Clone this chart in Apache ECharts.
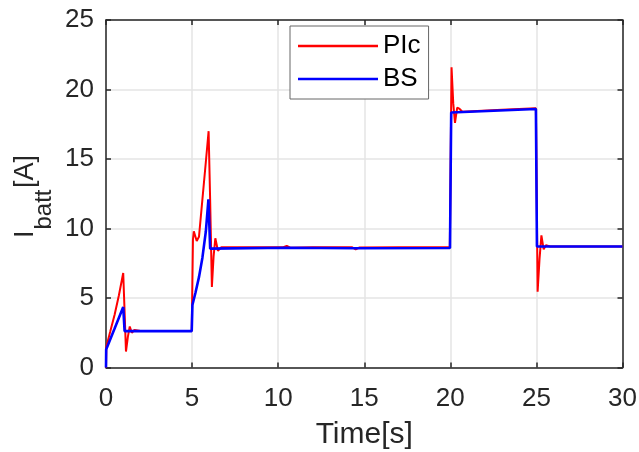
<!DOCTYPE html>
<html><head><meta charset="utf-8">
<script src="https://cdn.jsdelivr.net/npm/echarts@6/dist/echarts.min.js"></script>
<style>html,body{margin:0;padding:0;background:#fff}#c{width:639px;height:452px}</style>
</head><body><div id="c"></div>
<script>
// x-axis ticks and y-axis ticks
const xTicks = [0, 5, 10, 15, 20, 25, 30];
const yTicks = [0, 5, 10, 15, 20, 25];

// PIc series (red)
const icTime = [0, 0.02, 0.25, 0.5, 0.75, 1.0, 1.08, 1.16, 1.27, 1.38, 1.5, 1.65, 2.0, 4.98, 5.05, 5.1, 5.27, 5.4, 5.6, 5.8, 5.96, 6.05, 6.15, 6.25, 6.35, 6.5, 6.7, 8.0, 10.3, 10.5, 10.7, 12.0, 14.3, 14.5, 14.7, 17.0, 19.97, 20.07, 20.17, 20.27, 20.4, 20.54, 20.7, 23.0, 24.97, 25.07, 25.18, 25.29, 25.42, 25.55, 25.8, 30];
const icValue = [0, 1.5, 2.6, 3.8, 5.2, 6.8, 4.0, 1.15, 2.2, 2.95, 2.5, 2.7, 2.62, 2.62, 9.2, 9.8, 9.1, 9.4, 12.1, 14.8, 17.0, 12.0, 5.8, 8.0, 9.3, 8.4, 8.65, 8.65, 8.65, 8.75, 8.62, 8.65, 8.65, 8.5, 8.63, 8.65, 8.65, 21.6, 19.0, 17.6, 18.7, 18.6, 18.4, 18.55, 18.65, 5.45, 7.8, 9.5, 8.5, 8.8, 8.7, 8.7];

// BS series (blue)
const bsTime = [0, 0.01, 0.5, 1.0, 1.08, 4.98, 5.02, 5.2, 5.4, 5.6, 5.8, 5.95, 6.05, 10.5, 14.5, 19.98, 20.05, 24.97, 25.03, 30];
const bsValue = [0, 1.3, 2.8, 4.35, 2.62, 2.62, 4.5, 5.4, 6.5, 7.9, 9.8, 12.1, 8.55, 8.62, 8.58, 8.6, 18.35, 18.6, 8.7, 8.7];

const seriesNames = ['PIc', 'BS'];
const yTitleParts = ['I', 'batt', '[A]'];
const xTitle = 'Time[s]';

const FF = 'Arial, "Liberation Sans", Helvetica, sans-serif';
const axisColor = '#262626';
const gridColor = '#e4e4e4';

function pairs(t, v) { return t.map((x, i) => [x, v[i]]); }

const chart = echarts.init(document.getElementById('c'), null, {renderer: 'canvas'});

const lineStyle = {color: axisColor, width: 1.5};
const tickStyle = {show: true, inside: true, length: 5, lineStyle: {color: axisColor, width: 1.5}};

// rotated y-axis title pieces (main text + subscript)
function rotText(text, x, y, size) {
  return {
    type: 'text', x: x, y: y, rotation: Math.PI / 2, silent: true,
    style: {text: text, fontSize: size, fontFamily: FF, fill: axisColor, align: 'left', verticalAlign: 'middle'}
  };
}

chart.setOption({
  animation: false,
  backgroundColor: '#fff',
  grid: {left: 106, right: 16.5, top: 20, bottom: 84.5, containLabel: false, outerBoundsMode: 'none'},
  legend: {
    orient: 'vertical', left: 290, top: 26, padding: [7, 8, 7, 8], itemGap: 7,
    itemWidth: 80, itemHeight: 2.5, icon: 'rect',
    backgroundColor: '#fff', borderColor: '#666', borderWidth: 1,
    textStyle: {fontSize: 26, color: '#000', fontFamily: FF},
    data: seriesNames
  },
  graphic: [
    rotText(yTitleParts[0], 26, 238, 27),
    rotText(yTitleParts[1], 44, 229.5, 24),
    rotText(yTitleParts[2], 26, 188, 27)
  ],
  xAxis: [
    {
      type: 'value', min: xTicks[0], max: xTicks[xTicks.length - 1], interval: xTicks[1] - xTicks[0], position: 'bottom',
      axisLine: {show: true, onZero: false, lineStyle: lineStyle},
      axisTick: tickStyle,
      axisLabel: {margin: 18, fontSize: 26, color: axisColor, fontFamily: FF},
      splitLine: {show: true, lineStyle: {color: gridColor, width: 1.5}},
      name: xTitle, nameLocation: 'middle', nameGap: 52,
      nameTextStyle: {fontSize: 30, color: axisColor, fontFamily: FF}
    },
    {
      type: 'value', min: xTicks[0], max: xTicks[xTicks.length - 1], interval: xTicks[1] - xTicks[0], position: 'top',
      axisLine: {show: true, onZero: false, lineStyle: lineStyle},
      axisTick: tickStyle, axisLabel: {show: false}, splitLine: {show: false}
    }
  ],
  yAxis: [
    {
      type: 'value', min: yTicks[0], max: yTicks[yTicks.length - 1], interval: yTicks[1] - yTicks[0], position: 'left',
      axisLine: {show: true, onZero: false, lineStyle: lineStyle},
      axisTick: tickStyle,
      axisLabel: {margin: 12, fontSize: 26, color: axisColor, fontFamily: FF},
      splitLine: {show: true, lineStyle: {color: gridColor, width: 1.5}}
    },
    {
      type: 'value', min: yTicks[0], max: yTicks[yTicks.length - 1], interval: yTicks[1] - yTicks[0], position: 'right',
      axisLine: {show: true, onZero: false, lineStyle: lineStyle},
      axisTick: tickStyle, axisLabel: {show: false}, splitLine: {show: false}
    }
  ],
  series: [
    {
      name: seriesNames[0], type: 'line', xAxisIndex: 0, yAxisIndex: 0,
      showSymbol: false, symbol: 'none', color: '#ff0000',
      lineStyle: {color: '#ff0000', width: 2}, z: 2,
      data: pairs(icTime, icValue)
    },
    {
      name: seriesNames[1], type: 'line', xAxisIndex: 0, yAxisIndex: 0,
      showSymbol: false, symbol: 'none', color: '#0000ff',
      lineStyle: {color: '#0000ff', width: 2.6}, z: 3,
      data: pairs(bsTime, bsValue)
    }
  ]
});
</script></body></html>
